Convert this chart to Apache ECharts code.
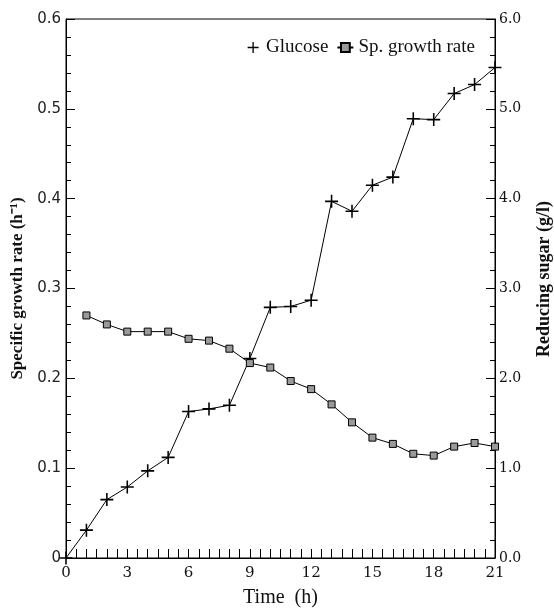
<!DOCTYPE html>
<html>
<head>
<meta charset="utf-8">
<script src="https://cdn.jsdelivr.net/npm/echarts@6/dist/echarts.min.js"></script>
<style>html,body{margin:0;padding:0;background:#fff}#c{width:554px;height:613px}</style>
</head>
<body>
<div id="c"></div>
<script>
var hours = [0,1,2,3,4,5,6,7,8,9,10,11,12,13,14,15,16,17,18,19,20,21];
var glucose = [0,0.31,0.65,0.79,0.97,1.12,1.63,1.66,1.70,2.22,2.79,2.80,2.87,3.97,3.86,4.15,4.24,4.89,4.88,5.17,5.27,5.46];
var growthHours = [1,2,3,4,5,6,7,8,9,10,11,12,13,14,15,16,17,18,19,20,21];
var growth = [0.270,0.260,0.252,0.252,0.252,0.244,0.242,0.233,0.217,0.212,0.197,0.188,0.171,0.151,0.134,0.127,0.116,0.114,0.124,0.128,0.124];
var seriesNames = ['Glucose','Sp. growth rate'];
var xTitle = 'Time  (h)';
var leftTitle = 'Specific growth rate (h\u207B\u00B9)';
var rightTitle = 'Reducing sugar (g/l)';

var chart = echarts.init(document.getElementById('c'), null, {renderer:'canvas'});
var serif = 'Liberation Serif';
var plus = 'path://M4.4,0H5.6V4.4H10V5.6H5.6V10H4.4V5.6H0V4.4H4.4Z';
chart.setOption({
  animation:false,
  backgroundColor:'#fff',
  grid:{left:66,right:59,top:19,bottom:50,show:true,borderColor:'#000',borderWidth:1},
  legend:{
    right:74, top:33, itemGap:8, itemWidth:16, itemHeight:11,
    textStyle:{fontFamily:serif,fontSize:19,color:'#111'},
    data:[{name:seriesNames[0],icon:plus},{name:seriesNames[1]}]
  },
  graphic:[{
    type:'text', x:544, y:279, rotation:Math.PI/2,
    style:{text:rightTitle, textAlign:'center', textVerticalAlign:'middle',
      font:'bold 18px "Liberation Serif"', fill:'#111'}
  }],
  xAxis:{
    type:'value', min:0, max:21, interval:3,
    name:xTitle, nameLocation:'middle', nameGap:30,
    nameTextStyle:{fontFamily:serif,fontSize:20,color:'#111'},
    axisLine:{lineStyle:{color:'#000',width:1}},
    axisTick:{inside:true,length:9,lineStyle:{color:'#000'}},
    minorTick:{show:true,splitNumber:6,length:9,lineStyle:{color:'#000'}},
    splitLine:{show:false},
    axisLabel:{fontFamily:'DejaVu Serif',fontSize:15,color:'#111',margin:8}
  },
  yAxis:[{
    type:'value', min:0, max:0.6, interval:0.1, position:'left',
    name:leftTitle, nameLocation:'middle', nameGap:37, nameRotate:90,
    nameTextStyle:{fontFamily:serif,fontSize:17,fontWeight:'bold',color:'#111'},
    axisLine:{show:true,lineStyle:{color:'#000'}},
    axisTick:{inside:true,length:9,lineStyle:{color:'#000'}},
    minorTick:{show:true,splitNumber:5,length:5,lineStyle:{color:'#000'}},
    splitLine:{show:false},
    axisLabel:{fontFamily:'DejaVu Sans',fontSize:15,color:'#222',margin:5,
      formatter:function(v){return v===0?'0':v.toFixed(1);}}
  },{
    type:'value', min:0, max:6, interval:1, position:'right',
    axisLine:{show:true,lineStyle:{color:'#000'}},
    axisTick:{inside:true,length:9,lineStyle:{color:'#000'}},
    minorTick:{show:true,splitNumber:5,length:5,lineStyle:{color:'#000'}},
    splitLine:{show:false},
    axisLabel:{fontFamily:'DejaVu Serif',fontSize:14,color:'#111',margin:4,
      formatter:function(v){return v.toFixed(1);}}
  }],
  series:[{
    name:seriesNames[0], type:'line', yAxisIndex:1,
    data:hours.map(function(h,i){return [h,glucose[i]];}),
    symbol:plus, symbolSize:13, showAllSymbol:true,
    lineStyle:{color:'#000',width:1},
    itemStyle:{color:'#000'}
  },{
    name:seriesNames[1], type:'line', yAxisIndex:0,
    data:growthHours.map(function(h,i){return [h,growth[i]];}),
    symbol:'rect', symbolSize:7, showAllSymbol:true,
    lineStyle:{color:'#000',width:1},
    itemStyle:{color:'#9a9a9a',borderColor:'#000',borderWidth:1}
  }]
});
</script>
</body>
</html>
